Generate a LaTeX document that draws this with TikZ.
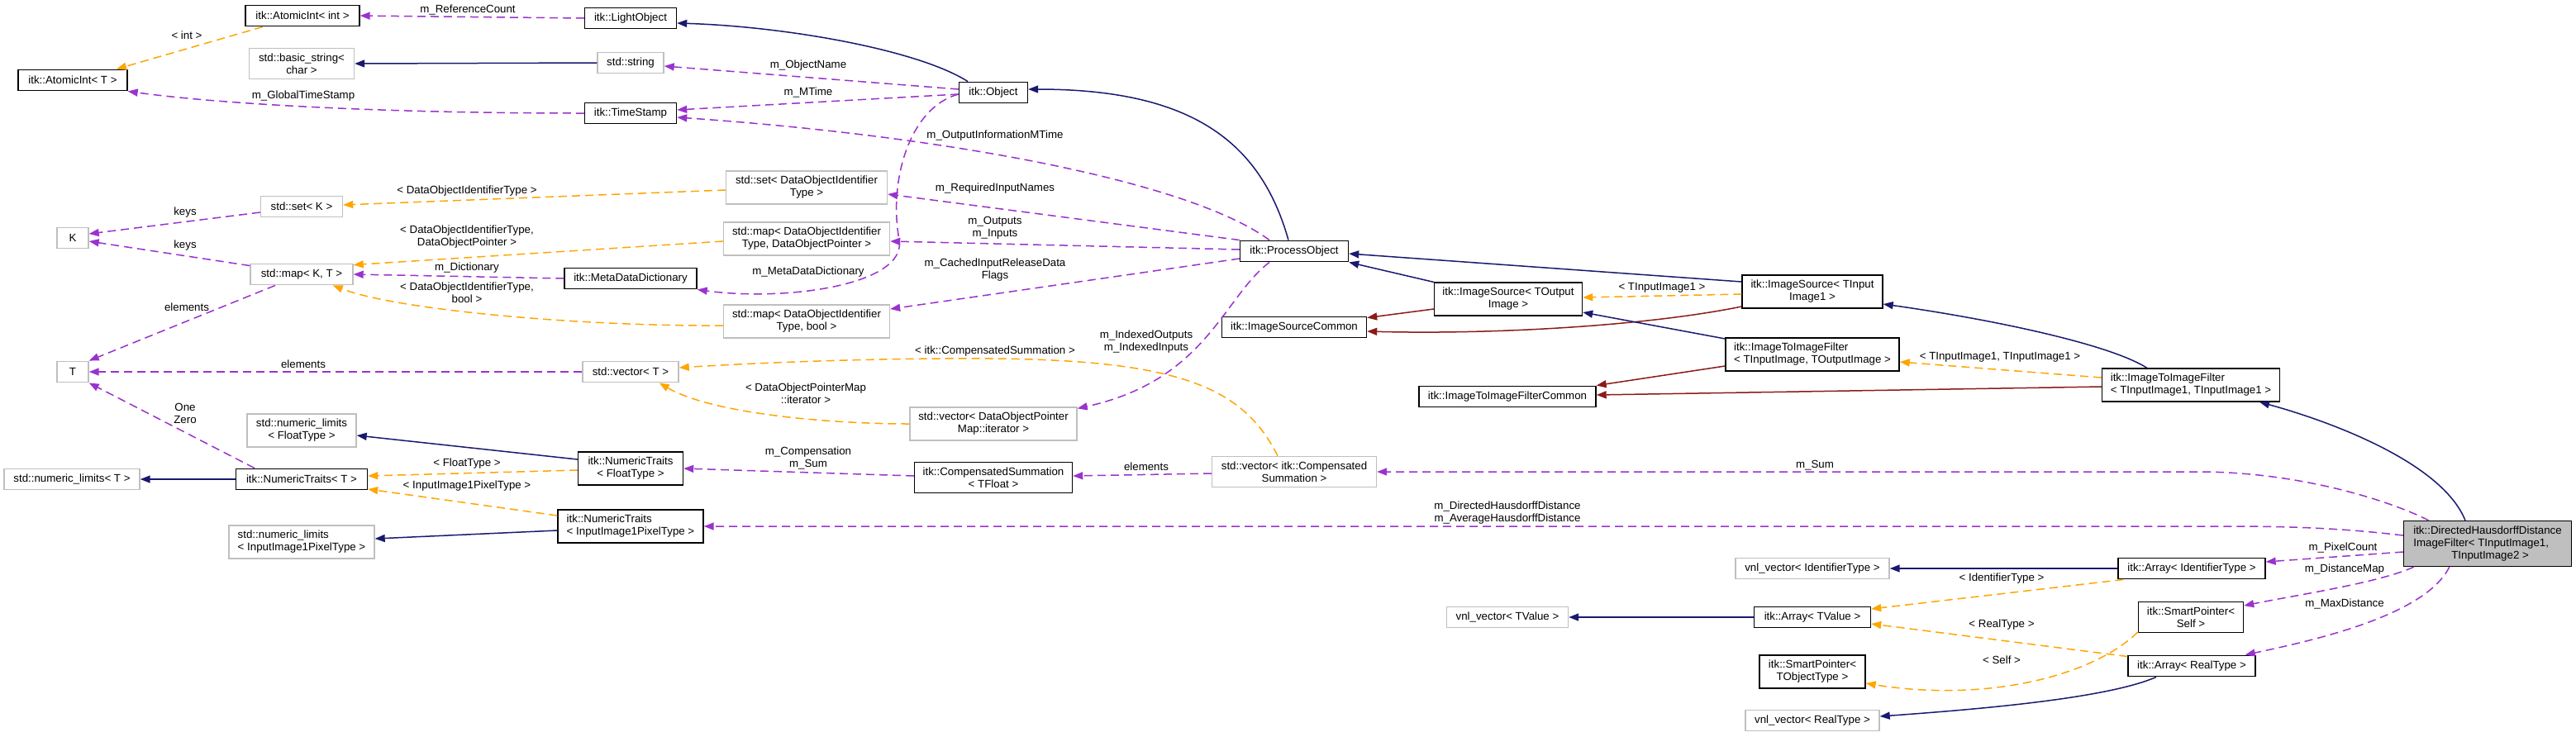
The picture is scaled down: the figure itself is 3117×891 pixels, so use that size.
\documentclass[tikz,border=0pt]{standalone}
\usepackage{fontspec}
\usepackage{tikz}
\usetikzlibrary{arrows.meta}
\newfontfamily\dxsans{Liberation Sans}
\newcommand{\dxfont}{\dxsans\fontsize{6.65}{7.5}\selectfont}
\definecolor{DxNavy}{HTML}{191970}
\definecolor{DxPurple}{HTML}{9A32CD}
\definecolor{DxOrange}{HTML}{FFA500}
\definecolor{DxRed}{HTML}{8B1A1A}
\definecolor{DxGray}{HTML}{BFBFBF}

\begin{document}
\begin{tikzpicture}[x=0.5pt,y=-0.5pt,
    box/.style={font=\dxfont,inner xsep=0pt,inner ysep=3.1pt,minimum height=12.75pt,
                align=center,fill=white,line width=0.7pt,minimum width={#1*0.5pt}},
    cls/.style={box=#1,draw=black},
    ext/.style={box=#1,draw=DxGray},
    lbl/.style={font=\dxfont,align=center,inner sep=0pt},
    link/.style={line width=0.75pt,-{Triangle[length=6pt,width=4.5pt]}},
    inh/.style={link,DxNavy},
    priv/.style={link,DxRed},
    use/.style={link,DxPurple,dash pattern=on 5pt off 3pt},
    tpl/.style={link,DxOrange,dash pattern=on 5pt off 3pt}]
    \path[use as bounding box,fill=white] (0,0) rectangle (3117,891);

    \node[cls=138] (aint) at (366,19) {itk::AtomicInt< int >};
    \node[cls=111] (lobj) at (763,22) {itk::LightObject};
    \node[cls=132] (aintT) at (88,97) {itk::AtomicInt< T >};
    \node[ext=127] (bstr) at (365,77) {std::basic\_string<\\char >};
    \node[ext=80] (sstr) at (763,76) {std::string};
    \node[cls=111] (tstamp) at (763,137) {itk::TimeStamp};
    \node[ext=195] (setid) at (976,227) {std::set< DataObjectIdentifier\\Type >};
    \node[ext=99] (setK) at (365,250) {std::set< K >};
    \node[ext=38] (nK) at (88,288) {K};
    \node[ext=201] (mapptr) at (976,289) {std::map< DataObjectIdentifier\\Type, DataObjectPointer >};
    \node[ext=124] (mapKT) at (365,332) {std::map< K, T >};
    \node[cls=160] (mdd) at (763,337) {itk::MetaDataDictionary};
    \node[ext=201] (mapbool) at (976,389) {std::map< DataObjectIdentifier\\Type, bool >};
    \node[ext=38] (nT) at (88,450) {T};
    \node[ext=116] (vecT) at (763,450) {std::vector< T >};
    \node[ext=132] (nlFT) at (365,521) {std::numeric\_limits\\< FloatType >};
    \node[cls=127] (ntFT) at (763,567) {itk::NumericTraits\\< FloatType >};
    \node[ext=164] (nlT) at (87,580) {std::numeric\_limits< T >};
    \node[cls=159] (ntT) at (365,580) {itk::NumericTraits< T >};
    \node[cls=176,align=left] (ntPix) at (763,637) {itk::NumericTraits\\< InputImage1PixelType >};
    \node[ext=176,align=left] (nlPix) at (365,656) {std::numeric\_limits\\< InputImage1PixelType >};
    \node[cls=83] (obj) at (1202,112) {itk::Object};
    \node[cls=131] (pobj) at (1566,304) {itk::ProcessObject};
    \node[cls=179] (isrcOut) at (1825,362) {itk::ImageSource< TOutput\\Image >};
    \node[cls=175] (isc) at (1566,396) {itk::ImageSourceCommon};
    \node[cls=214] (itifc) at (1824,480) {itk::ImageToImageFilterCommon};
    \node[ext=202] (vecIter) at (1202,513) {std::vector< DataObjectPointer\\Map::iterator >};
    \node[cls=191] (csum) at (1202,578) {itk::CompensatedSummation\\< TFloat >};
    \node[ext=199] (vecCS) at (1566,571) {std::vector< itk::Compensated\\Summation >};
    \node[cls=170] (isrcIn) at (2193,353) {itk::ImageSource< TInput\\Image1 >};
    \node[cls=210,align=left] (itifIO) at (2193,429) {itk::ImageToImageFilter\\< TInputImage, TOutputImage >};
    \node[cls=215,align=left] (itifII) at (2651,466) {itk::ImageToImageFilter\\< TInputImage1, TInputImage1 >};
    \node[cls=203,fill=DxGray,align=left] (hd) at (3010,658)
      {itk::DirectedHausdorffDistance\\ImageFilter< TInputImage1,\\\hspace*{23pt}TInputImage2 >};
    \node[ext=186] (vnlID) at (2193,688) {vnl\_vector< IdentifierType >};
    \node[cls=178] (arrID) at (2652,688) {itk::Array< IdentifierType >};
    \node[ext=147] (vnlTV) at (1824,747) {vnl\_vector< TValue >};
    \node[cls=141] (arrTV) at (2193,747) {itk::Array< TValue >};
    \node[cls=127] (spSelf) at (2651,747) {itk::SmartPointer<\\Self >};
    \node[cls=128] (spTOT) at (2193,813) {itk::SmartPointer<\\TObjectType >};
    \node[cls=154] (arrRT) at (2652,806) {itk::Array< RealType >};
    \node[ext=162] (vnlRT) at (2193,872) {vnl\_vector< RealType >};

    \draw[use] (lobj.west) -- (aint.east);
    \node[lbl] (lRefCount) at (566,12) {m\_ReferenceCount};
    \draw[tpl] ([xshift=-24pt]aint.south) -- ([xshift=26.5pt]aintT.north);
    \node[lbl] (lInt) at (226,43) {< int >};
    \draw[inh] (sstr.west) -- (bstr.east);
    \draw[use] (tstamp.west) .. controls (450,137) and (260,125) .. (aintT.south east);
    \node[lbl] (lGlobal) at (367,116) {m\_GlobalTimeStamp};
    \draw[inh] ([xshift=-15.5pt]obj.north) .. controls (1110,60) and (950,32) .. ([yshift=-3pt]lobj.east);
    \draw[use] ([yshift=2pt]obj.west) -- ([yshift=-2pt]sstr.east);
    \node[lbl] (lObjName) at (978,79) {m\_ObjectName};
    \draw[use] ([yshift=-1pt]obj.west) -- ([yshift=2pt]tstamp.east);
    \node[lbl] (lMTime) at (978,112) {m\_MTime};
    \draw[use] ([xshift=-15pt]pobj.north) .. controls (1440,220) and (1150,165) .. ([yshift=-2.5pt]tstamp.east);
    \node[lbl] (lOutInfo) at (1204,164) {m\_OutputInformationMTime};
    \draw[inh] ([xshift=-3.5pt]pobj.north) .. controls (1525,170) and (1440,108) .. ([yshift=2pt]obj.east);
    \draw[use] (pobj.north west) -- ([yshift=-4pt]setid.east);
    \node[lbl] (lReqNames) at (1204,228) {m\_RequiredInputNames};
    \draw[use] ([yshift=1pt]pobj.west) -- ([yshift=-1.5pt]mapptr.east);
    \node[lbl] (lOutputs) at (1204,276) {m\_Outputs\\m\_Inputs};
    \draw[use] ([yshift=-1pt]obj.west) .. controls (1100,130) and (1075,220) .. (1088,290)
      .. controls (1098,345) and (950,365) .. (mdd.south east);
    \node[lbl] (lMDD) at (978,329) {m\_MetaDataDictionary};
    \draw[use] ([yshift=-4.5pt]pobj.west) -- ([yshift=7.5pt]mapbool.east);
    \node[lbl] (lCached) at (1204,327) {m\_CachedInputReleaseData\\Flags};
    \draw[use] ([xshift=-15pt]pobj.south) .. controls (1480,360) and (1460,460) .. ([yshift=-1pt]vecIter.north east);
    \node[lbl] (lIndexed) at (1387,414) {m\_IndexedOutputs\\m\_IndexedInputs};

    \draw[use] (mdd.west) -- (mapKT.east);
    \node[lbl] (lDict) at (565,324) {m\_Dictionary};
    \draw[tpl] ([yshift=-1.5pt]setid.west) -- ([yshift=1pt]setK.east);
    \node[lbl] (lSetId) at (565,231) {< DataObjectIdentifierType >};
    \draw[tpl] ([yshift=-1.5pt]mapptr.west) -- ([yshift=-1pt]mapKT.north east);
    \node[lbl] (lMapPtr) at (565,287) {< DataObjectIdentifierType,\\DataObjectPointer >};
    \draw[tpl] ([yshift=-2.5pt]mapbool.west) .. controls (700,395) and (480,375) .. ([xshift=-12.5pt]mapKT.south east);
    \node[lbl] (lMapBool) at (565,354) {< DataObjectIdentifierType,\\bool >};
    \draw[use] ([yshift=-3.5pt]setK.west) -- ([yshift=2.5pt]nK.east);
    \node[lbl] (lKeysA) at (224,257) {keys};
    \draw[use] ([yshift=-1.5pt]mapKT.north west) -- ([yshift=-2pt]nK.east);
    \node[lbl] (lKeysB) at (224,297) {keys};
    \draw[use] ([xshift=-16pt]mapKT.south) -- (nT.north east);
    \node[lbl] (lElemMap) at (226,372) {elements};
    \draw[use] (vecT.west) -- (nT.east);
    \node[lbl] (lElemVec) at (367,441) {elements};
    \draw[use] ([xshift=-28.5pt]ntT.north) -- (nT.south east);
    \node[lbl] (lOneZero) at (224,500) {One\\Zero};
    \draw[inh] (ntT.west) -- (nlT.east);
    \draw[inh] ([yshift=5.5pt]ntFT.west) -- ([yshift=-3pt]nlFT.east);
    \draw[tpl] ([yshift=-1pt]ntFT.west) -- ([yshift=2pt]ntT.east);
    \node[lbl] (lFloat) at (565,561) {< FloatType >};
    \draw[tpl] ([yshift=6.5pt]ntPix.west) -- ([yshift=-6pt]ntT.east);
    \node[lbl] (lPix) at (565,588) {< InputImage1PixelType >};
    \draw[inh] ([yshift=-2.5pt]ntPix.west) -- ([yshift=2pt]nlPix.east);
    \draw[use] ([yshift=1pt]csum.west) -- (ntFT.east);
    \node[lbl] (lComp) at (978,554) {m\_Compensation\\m\_Sum};
    \draw[use] ([yshift=-1pt]vecCS.west) -- ([yshift=1pt]csum.east);
    \node[lbl] (lElemCS) at (1387,565) {elements};
    \draw[tpl] ([xshift=-10pt]vecCS.north) .. controls (1505,470) and (1430,436) .. (1200,434)
      .. controls (1050,433) and (900,440) .. ([yshift=2.5pt]vecT.east);
    \node[lbl] (lCompSum) at (1204,425) {< itk::CompensatedSummation >};
    \draw[tpl] (vecIter.west) .. controls (1000,513) and (860,500) .. ([xshift=-12pt]vecT.south east);
    \node[lbl] (lIter) at (975,476) {< DataObjectPointerMap\\::iterator >};

    \draw[inh] (isrcOut.north west) -- (pobj.south east);
    \draw[priv] ([yshift=-6pt]isrcOut.west) -- ([yshift=-1pt]isc.north east);
    \draw[inh] ([yshift=6pt]isrcIn.west) -- ([yshift=-1.5pt]pobj.east);
    \draw[tpl] ([yshift=-1.5pt]isrcIn.west) -- ([yshift=1pt]isrcOut.east);
    \node[lbl] (lTII1) at (2011,348) {< TInputImage1 >};
    \draw[priv] ([yshift=-9pt]isrcIn.west) .. controls (1990,395) and (1800,405) .. ([yshift=-2.5pt]isc.east);
    \draw[inh] ([yshift=9.5pt]itifIO.west) -- ([yshift=-8pt]isrcOut.east);
    \draw[priv] ([yshift=-7pt]itifIO.west) -- (itifc.north east);
    \draw[tpl] ([yshift=4.5pt]itifII.west) -- ([yshift=-4.5pt]itifIO.east);
    \node[lbl] (lTII1x2) at (2420,432) {< TInputImage1, TInputImage1 >};
    \draw[priv] ([yshift=-1pt]itifII.west) -- ([yshift=1pt]itifc.east);
    \draw[inh] ([xshift=-26.5pt]itifII.north) .. controls (2550,415) and (2400,385) .. ([yshift=-7.5pt]isrcIn.east);

    \draw[inh] ([xshift=-13.5pt]hd.north) .. controls (2955,560) and (2820,510) .. ([xshift=41.5pt]itifII.south);
    \draw[use] ([xshift=15.5pt]hd.north west) .. controls (2890,605) and (2780,571) .. (2660,571) -- (vecCS.east);
    \node[lbl] (lSum) at (2196,563) {m\_Sum};
    \draw[use] ([yshift=5pt]hd.west) .. controls (2840,640) and (2780,637) .. (2700,637) -- (ntPix.east);
    \node[lbl] (lHaus) at (1824,621) {m\_DirectedHausdorffDistance\\m\_AverageHausdorffDistance};
    \draw[use] ([yshift=-5pt]hd.west) -- ([yshift=4pt]arrID.east);
    \node[lbl] (lPixCount) at (2835,663) {m\_PixelCount};
    \draw[use] ([xshift=6.5pt]hd.south west) .. controls (2880,705) and (2780,720) .. ([yshift=7pt]spSelf.east);
    \node[lbl] (lDistMap) at (2837,689) {m\_DistanceMap};
    \draw[use] ([xshift=28pt]hd.south west) .. controls (2935,745) and (2800,775) .. ([xshift=-6.5pt]arrRT.north east);
    \node[lbl] (lMaxDist) at (2837,731) {m\_MaxDistance};
    \draw[inh] (arrID.west) -- (vnlID.east);
    \draw[tpl] ([xshift=3.5pt]arrID.south west) -- ([yshift=5pt]arrTV.east);
    \node[lbl] (lIdType) at (2422,700) {< IdentifierType >};
    \draw[inh] (arrTV.west) -- (vnlTV.east);
    \draw[tpl] ([yshift=-1pt]arrRT.north west) -- ([yshift=-4pt]arrTV.east);
    \node[lbl] (lRealType) at (2422,756) {< RealType >};
    \draw[tpl] ([yshift=-9pt]spSelf.west) .. controls (2530,820) and (2400,850) .. ([yshift=-7pt]spTOT.east);
    \node[lbl] (lSelf) at (2422,799) {< Self >};
    \draw[inh] ([xshift=-21.5pt]arrRT.south) .. controls (2550,845) and (2400,858) .. ([yshift=2.5pt]vnlRT.east);
\end{tikzpicture}
\end{document}
